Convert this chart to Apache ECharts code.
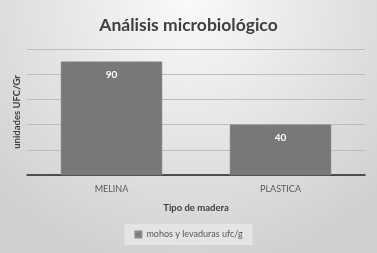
<!DOCTYPE html>
<html><head><meta charset="utf-8">
<script src="https://cdn.jsdelivr.net/npm/echarts@6/dist/echarts.min.js"></script>
<style>html,body{margin:0;padding:0;}#c{width:377px;height:253px;}</style>
</head><body><div id="c"></div>
<script>
const categories = ["MELINA", "PLASTICA"];
const seriesName = "mohos y levaduras ufc/g";
const values = [90, 40];
const titleText = "Análisis microbiológico";
const xAxisName = "Tipo de madera";
const yAxisName = "unidades UFC/Gr";

const chart = echarts.init(document.getElementById('c'));
chart.setOption({
  backgroundColor: {
    type: 'radial', x: 0.5, y: 0.0, r: 1.1,
    colorStops: [{offset: 0, color: '#fafafa'}, {offset: 1, color: '#cfcfcf'}]
  },
  animation: false,
  title: {
    text: titleText, left: 'center', top: 11,
    textStyle: {fontFamily: 'Lato', fontSize: 17.5, fontWeight: 'bold', color: '#404040'}
  },
  legend: {
    bottom: 8, left: 'center',
    itemWidth: 6, itemHeight: 6, itemGap: 4,
    icon: 'rect',
    backgroundColor: '#e4e4e4', padding: [6, 10],
    textStyle: {fontFamily: 'Lato', fontSize: 9, color: '#595959'},
    data: [seriesName]
  },
  grid: {left: 27, right: 12, top: 49, bottom: 78, containLabel: false},
  xAxis: {
    type: 'category', data: categories,
    name: xAxisName, nameLocation: 'middle', nameGap: 28,
    nameTextStyle: {fontFamily: 'Lato', fontSize: 9.5, fontWeight: 'bold', color: '#404040'},
    axisLine: {lineStyle: {color: '#262626', width: 1.5}},
    axisTick: {show: false},
    axisLabel: {fontFamily: 'Lato', fontSize: 9, color: '#595959', margin: 10}
  },
  yAxis: {
    type: 'value', min: 0, max: 100, interval: 20,
    name: yAxisName, nameLocation: 'middle', nameGap: 5, nameRotate: 90,
    nameTextStyle: {fontFamily: 'Lato', fontSize: 9.5, fontWeight: 'bold', color: '#404040'},
    axisLabel: {show: false},
    axisLine: {show: false}, axisTick: {show: false},
    splitLine: {lineStyle: {color: '#bdbdbd', width: 1}}
  },
  series: [{
    name: seriesName, type: 'bar', data: values,
    barWidth: '60%',
    itemStyle: {color: '#787878', borderColor: '#8a8a8a', borderWidth: 0.5},
    label: {show: true, position: 'insideTop', distance: 8,
      fontFamily: 'Lato', fontSize: 10, fontWeight: 'bold', color: '#ffffff'}
  }]
});
</script></body></html>
